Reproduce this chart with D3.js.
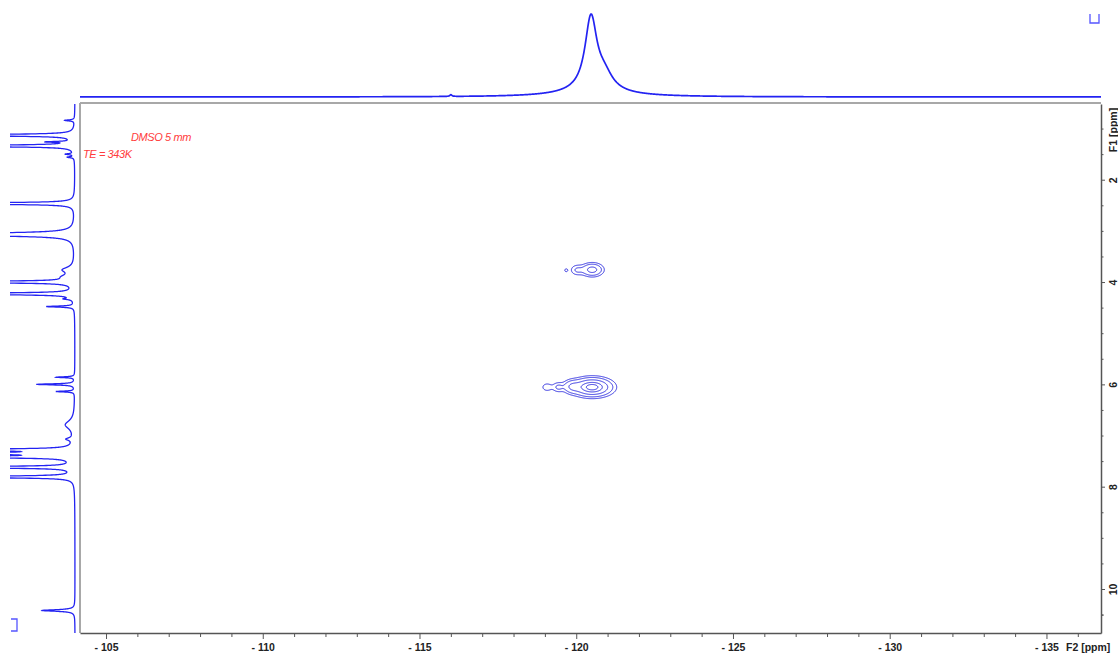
<!DOCTYPE html>
<html><head><meta charset="utf-8">
<script src="https://cdn.jsdelivr.net/npm/d3@7"></script>
<style>body{margin:0;background:#fff;} svg{display:block}</style>
</head><body>
<script>
// ---------------- data ----------------
const f2Domain = [-104.17, -136.74];           // ppm, left -> right
const f1Domain = [0.52, 10.86];                // ppm, top -> bottom
const f2MajorTicks = [-105, -110, -115, -120, -125, -130, -135];
const f2MinorStep = 1;
const f1MajorTicks = [2, 4, 6, 8, 10];
const f1MinorStep = 0.5;
const f2Label = "F2 [ppm]";
const f1Label = "F1 [ppm]";
const noteLines = ["DMSO 5 mm", "TE = 343K"];

// F2 (top) projection peaks: [ppm, height, half-width ppm]
const f2Peaks = [
  [-120.47, 0.86, 0.23],
  [-120.90, 0.17, 0.32],
  [-120.50, 0.06, 1.20],
  [-116.00, 0.02, 0.04]
];

// F1 (left) projection peaks: [ppm, height, half-width ppm]
const f1Peaks = [
  [0.84, 0.15, 0.012],
  [1.13, 5, 0.010],
  [1.26, 0.35, 0.010],
  [1.34, 5, 0.010],
  [1.50, 0.12, 0.012],
  [1.56, 0.10, 0.012],
  [2.465, 5, 0.010],
  [3.07, 5, 0.018],
  [3.76, 0.16, 0.06],
  [3.90, 0.14, 0.06],
  [4.00, 5, 0.010],
  [4.23, 5, 0.010],
  [4.33, 0.12, 0.015],
  [4.48, 0.42, 0.012],
  [5.86, 0.28, 0.010],
  [6.00, 0.58, 0.012],
  [6.14, 0.28, 0.010],
  [6.79, 0.14, 0.10],
  [7.07, 0.10, 0.03],
  [7.28, 5, 0.010],
  [7.35, 5, 0.010],
  [7.42, 5, 0.010],
  [7.62, 5, 0.010],
  [7.81, 5, 0.010],
  [10.42, 0.50, 0.018]
];

// 2D cross peaks: [f2 ppm, f1 ppm, height, sigma f2, sigma f1]
const crossPeaks = [
  [-120.50, 3.755, 0.40, 0.19, 0.070],
  [-120.02, 3.760, 0.13, 0.13, 0.062],
  [-119.67, 3.765, 0.07, 0.05, 0.030],
  [-120.50, 6.050, 1.00, 0.32, 0.092],
  [-119.86, 6.040, 0.28, 0.16, 0.072],
  [-119.42, 6.050, 0.14, 0.12, 0.058],
  [-119.06, 6.050, 0.10, 0.11, 0.052]
];
const contourLevels = [0.05, 0.12, 0.30, 0.60, 0.85];

// ---------------- layout ----------------
const W = 1118, H = 657;
const L = 80, R = 1101, T = 104, B = 633;
const blue = "#2323f2";

const svg = d3.select("body").append("svg").attr("width", W).attr("height", H);

const x = d3.scaleLinear().domain(f2Domain).range([L, R]);
const y = d3.scaleLinear().domain(f1Domain).range([T, B]);

const lor = (p, pk) => pk[1] / (1 + ((p - pk[0]) / pk[2]) ** 2);

// frame (top & left grey borders)
svg.append("line").attr("x1", L).attr("x2", R).attr("y1", T - 1).attr("y2", T - 1)
  .attr("stroke", "#a8a8a8").attr("stroke-width", 2);
svg.append("line").attr("x1", L).attr("x2", L).attr("y1", T - 1).attr("y2", B)
  .attr("stroke", "#a8a8a8").attr("stroke-width", 2);

// ---------------- top projection ----------------
{
  const pts = [];
  const step = (f2Domain[1] - f2Domain[0]) / 4000;
  for (let i = 0; i <= 4000; i++) {
    const p = f2Domain[0] + i * step;
    let v = 0; f2Peaks.forEach(pk => v += lor(p, pk));
    pts.push([p, v]);
  }
  const maxV = d3.max(pts, d => d[1]);
  const yT = d3.scaleLinear().domain([0, maxV]).range([97, 14]);
  svg.append("path").datum(pts)
    .attr("d", d3.line().x(d => x(d[0])).y(d => yT(d[1])))
    .attr("fill", "none").attr("stroke", blue).attr("stroke-width", 1.7);
}

// ---------------- left projection ----------------
{
  svg.append("clipPath").attr("id", "lclip").append("rect")
    .attr("x", 10).attr("y", T - 2).attr("width", L - 12).attr("height", B - T + 2);
  const xL = d3.scaleLinear().domain([0, 1]).range([75, 9]);
  const pts = [];
  const n = 6000;
  const step = (f1Domain[1] - f1Domain[0]) / n;
  for (let i = 0; i <= n; i++) {
    const p = f1Domain[0] + i * step;
    let v = 0; f1Peaks.forEach(pk => v += lor(p, pk));
    pts.push([p, v]);
  }
  svg.append("path").datum(pts).attr("clip-path", "url(#lclip)")
    .attr("d", d3.line().x(d => xL(d[1])).y(d => y(d[0])))
    .attr("fill", "none").attr("stroke", blue).attr("stroke-width", 1.3);
}

// ---------------- contours ----------------
{
  const gx0 = 520, gy0 = 240, stepPx = 0.5;
  const nx = 280, ny = 360;
  const vals = new Float64Array(nx * ny);
  for (let j = 0; j < ny; j++) {
    const p1 = y.invert(gy0 + j * stepPx);
    for (let i = 0; i < nx; i++) {
      const p2 = x.invert(gx0 + i * stepPx);
      let v = 0;
      for (const c of crossPeaks) {
        const a = (p2 - c[0]) / c[3], b = (p1 - c[1]) / c[4];
        v += c[2] * Math.exp(-0.5 * (a * a + b * b));
      }
      vals[j * nx + i] = v;
    }
  }
  const cs = d3.contours().size([nx, ny]).thresholds(contourLevels)(vals);
  const proj = d3.geoTransform({
    point: function (px, py) { this.stream.point(gx0 + px * stepPx, gy0 + py * stepPx); }
  });
  const gp = d3.geoPath(proj);
  svg.append("g").selectAll("path").data(cs).join("path")
    .attr("d", gp).attr("fill", "none").attr("stroke", "#2a2ae0").attr("stroke-width", 1);
}

// ---------------- axes ----------------
const fmt = d => "- " + Math.abs(d);
const axisFont = "'Liberation Sans Narrow', 'Arial Narrow', 'Liberation Sans', Arial, sans-serif";

{
  const minor = d3.range(Math.ceil(f2Domain[1]), Math.floor(f2Domain[0]) + 1, f2MinorStep)
    .filter(v => !f2MajorTicks.includes(v) && v >= f2Domain[1] && v <= f2Domain[0]);
  const gMin = svg.append("g").attr("transform", `translate(0,${B})`)
    .call(d3.axisBottom(x).tickValues(minor).tickSize(4).tickFormat(""));
  gMin.select(".domain").remove();
  gMin.selectAll("line").attr("stroke", "#555");
  const g = svg.append("g").attr("transform", `translate(0,${B})`)
    .call(d3.axisBottom(x).tickValues(f2MajorTicks).tickSize(6).tickSizeOuter(0).tickFormat(fmt));
  g.select(".domain").attr("stroke", "#555").attr("stroke-width", 1.5);
  g.selectAll("line").attr("stroke", "#555");
  g.selectAll("text").attr("y", 11).attr("font-family", axisFont).attr("font-size", 10.5)
    .attr("font-weight", "bold").attr("fill", "#222");
  svg.append("text").attr("x", 1066).attr("y", B + 11).attr("dy", "0.71em")
    .attr("font-family", axisFont).attr("font-size", 10.5).attr("font-weight", "bold")
    .attr("fill", "#222").text(f2Label);
}
{
  const minor = d3.range(1, 11, f1MinorStep).filter(v => !f1MajorTicks.includes(v));
  minor.push(10.5);
  const gMin = svg.append("g").attr("transform", `translate(${R},0)`)
    .call(d3.axisRight(y).tickValues(minor).tickSize(2.5).tickFormat(""));
  gMin.select(".domain").remove();
  gMin.selectAll("line").attr("stroke", "#555");
  const g = svg.append("g").attr("transform", `translate(${R},0)`)
    .call(d3.axisRight(y).tickValues(f1MajorTicks).tickSize(4).tickSizeOuter(0).tickFormat(d3.format("d")));
  g.select(".domain").attr("stroke", "#555").attr("stroke-width", 1.5);
  g.selectAll("line").attr("stroke", "#555");
  g.selectAll("text").attr("x", null).attr("dy", null)
    .attr("transform", "translate(12,0) rotate(-90)")
    .attr("text-anchor", "middle").attr("dominant-baseline", "central")
    .attr("font-family", axisFont).attr("font-size", 10.5).attr("font-weight", "bold").attr("fill", "#222");
  svg.append("text").attr("transform", `translate(${R + 12},130) rotate(-90)`)
    .attr("text-anchor", "middle").attr("dominant-baseline", "central")
    .attr("font-family", axisFont).attr("font-size", 10.5).attr("font-weight", "bold")
    .attr("fill", "#222").text(f1Label);
}

// ---------------- notes ----------------
const noteFont = "'Liberation Sans', Arial, sans-serif";
svg.append("text").attr("x", 131).attr("y", 141).attr("font-family", noteFont)
  .attr("font-style", "italic").attr("font-size", 11).attr("fill", "#ff3c3c")
  .attr("letter-spacing", -0.4).text(noteLines[0]);
svg.append("text").attr("x", 83).attr("y", 158).attr("font-family", noteFont)
  .attr("font-style", "italic").attr("font-size", 11).attr("fill", "#ff3c3c")
  .attr("letter-spacing", -0.4).text(noteLines[1]);

// ---------------- corner markers ----------------
svg.append("path").attr("d", "M1090,14 V23 H1099 V14")
  .attr("fill", "none").attr("stroke", "#5555ff").attr("stroke-width", 1.3);
svg.append("path").attr("d", "M11,619 H17 V631 H11")
  .attr("fill", "none").attr("stroke", "#5555ff").attr("stroke-width", 1.3);
</script>
</body></html>
